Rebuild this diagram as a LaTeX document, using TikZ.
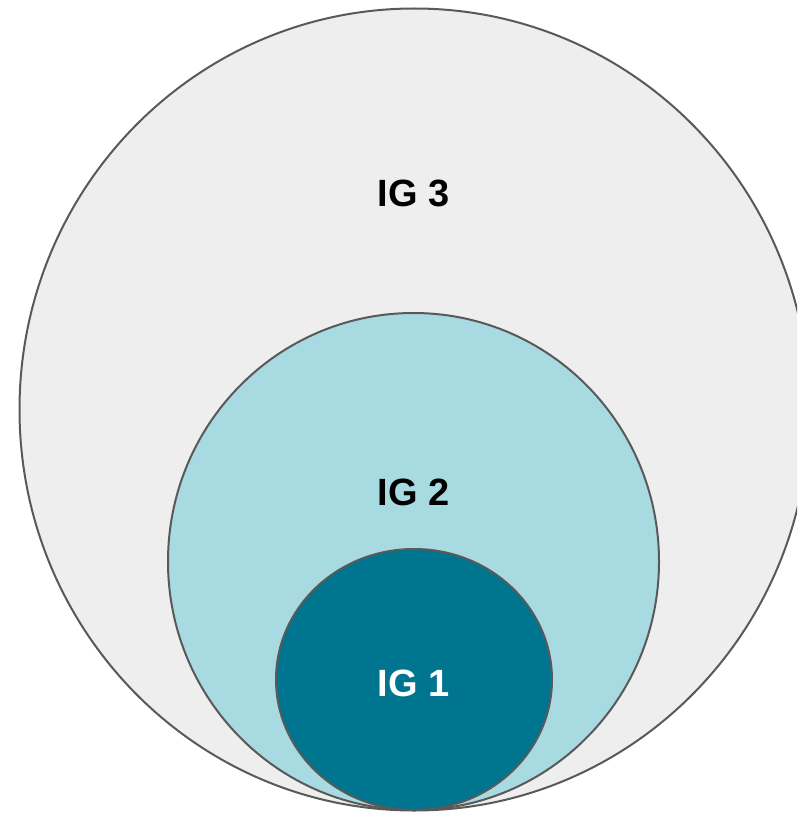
\documentclass[tikz,border=0pt]{standalone}
\usepackage{fontspec}
\setmainfont{Liberation Sans}
\definecolor{ringline}{HTML}{595959}
\definecolor{outerfill}{HTML}{EEEEEE}
\definecolor{midfill}{HTML}{A8DAE2}
\definecolor{innerfill}{HTML}{00758F}
\begin{document}
\begin{tikzpicture}[x=1pt,y=-1pt,
  ring/.style={draw=ringline,line width=2pt},
  lbl/.style={font=\fontsize{38}{44}\selectfont\bfseries,inner sep=0pt}]
\useasboundingbox (0,0) rectangle (797,813);
\clip (0,0) rectangle (797,813);
\path[ring,fill=outerfill] (414.5,409.5) ellipse [x radius=395, y radius=401];
\path[ring,fill=midfill] (413.5,561.5) ellipse [x radius=245.5, y radius=248.5];
\path[ring,fill=innerfill] (414,679.5) ellipse [x radius=138, y radius=130.5];
\node[lbl,text=black] (ig3) at (413.5,193) {IG 3};
\node[lbl,text=black] (ig2) at (413.5,492) {IG 2};
\node[lbl,text=white] (ig1) at (413.5,683) {IG 1};
\end{tikzpicture}
\end{document}
